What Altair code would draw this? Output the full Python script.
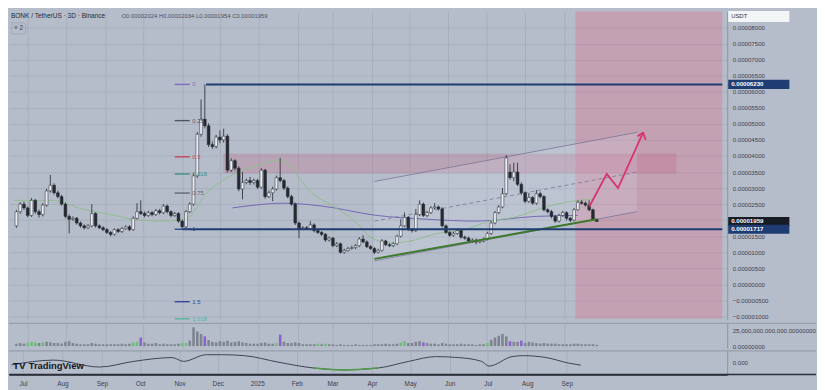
import altair as alt
import pandas as pd

# ---------------- layout / style ----------------
W = 728
H_MAIN = 312
H_VOL = 25
H_OSC = 24
BG = "#b6bdca"
GRID = "#a8afbc"
FONT = "Liberation Sans"
LABEL = "#3b414d"

# ---------------- data (prices in millionths of USDT) ----------------
candle_start = "2024-06-22"   # 3D candles
opens = [18.24, 22.65, 25.0, 23.82, 21.47, 26.18, 22.65, 21.76, 24.71, 29.12,
         30.88, 28.53, 27.35, 25.0, 21.18, 20.29, 20.59, 19.12, 18.24, 17.65,
         18.24, 22.06, 18.24, 17.65, 17.06, 16.18, 15.59, 17.06, 16.47, 17.35,
         17.94, 17.06, 20.59, 22.65, 22.06, 21.47, 22.35, 21.76, 22.94, 22.35,
         24.41, 22.65, 21.47, 22.06, 19.71, 17.94, 22.65, 25.0, 33.82, 46.76,
         51.47, 49.41, 43.53, 42.94, 45.88, 45.0, 46.18, 35.59, 38.53, 36.18,
         29.71, 31.76, 32.35, 31.76, 32.35, 30.29, 35.59, 27.35, 28.53, 29.71,
         33.24, 32.35, 30.0, 27.35, 25.0, 19.12, 17.35, 17.65, 17.35, 18.53,
         16.76, 16.18, 15.59, 13.82, 14.41, 12.06, 12.65, 10.0, 10.59, 11.18,
         11.47, 12.06, 14.12, 13.24, 11.76, 11.18, 10.0, 10.59, 13.53, 12.35,
         12.06, 12.65, 15.0, 18.24, 20.88, 17.06, 16.76, 21.76, 25.0, 21.47,
         22.35, 23.82, 24.12, 23.53, 18.24, 16.18, 15.29, 15.88, 16.76, 14.71,
         14.41, 13.53, 13.82, 13.24, 13.53, 14.12, 15.88, 19.12, 22.35, 24.12,
         28.24, 35.0, 33.24, 35.0, 31.18, 28.53, 25.88, 27.06, 25.29, 28.24,
         27.35, 23.24, 22.65, 21.18, 19.71, 21.47, 22.35, 20.59, 20.0, 23.24,
         25.59, 25.29, 24.71, 23.24, 20.24]
highs = [23.2, 25.6, 25.8, 24.3, 26.9, 26.6, 23.3, 25.3, 29.8, 34.1,
         31.5, 29.2, 27.9, 25.5, 21.8, 21.2, 21.0, 19.6, 18.7, 18.8,
         25.0, 22.5, 18.7, 18.1, 17.5, 16.6, 17.5, 17.5, 17.9, 18.4,
         18.4, 21.2, 25.3, 26.2, 22.7, 22.9, 22.8, 23.5, 23.5, 25.0,
         24.9, 23.1, 22.6, 22.5, 20.2, 23.2, 25.6, 34.5, 47.5, 57.6,
         62.3, 50.2, 44.5, 46.6, 48.0, 48.5, 46.8, 39.3, 39.0, 36.8,
         35.0, 33.0, 33.5, 33.0, 32.9, 36.2, 36.0, 29.2, 30.4, 33.9,
         39.4, 32.9, 30.5, 27.9, 25.5, 19.6, 18.2, 18.1, 19.7, 19.0,
         17.2, 16.6, 16.0, 14.9, 14.8, 13.2, 13.0, 11.1, 11.7, 12.0,
         12.6, 14.7, 15.3, 13.7, 12.2, 11.6, 11.1, 14.1, 13.9, 12.8,
         13.1, 15.5, 20.3, 22.4, 21.3, 17.5, 23.5, 26.2, 25.5, 22.9,
         24.4, 25.3, 24.6, 24.0, 18.7, 16.7, 16.4, 17.3, 17.2, 15.2,
         14.9, 14.3, 14.3, 14.0, 14.6, 16.4, 19.7, 22.9, 24.7, 30.0,
         40.3, 37.4, 37.9, 37.9, 31.8, 29.0, 28.5, 27.5, 29.4, 28.9,
         27.8, 23.7, 23.2, 21.7, 22.0, 22.9, 22.8, 21.0, 23.8, 26.2,
         26.3, 25.8, 26.2, 23.6, 20.34]
lows = [17.6, 22.0, 23.2, 20.9, 21.0, 22.0, 20.8, 21.2, 24.2, 28.6,
        28.0, 26.8, 24.5, 20.6, 15.9, 19.8, 18.6, 17.7, 17.1, 17.2,
        17.8, 17.7, 17.2, 16.6, 15.7, 15.0, 15.2, 16.0, 16.0, 17.0,
        16.6, 16.7, 20.2, 21.6, 20.9, 21.0, 21.2, 21.3, 21.8, 21.9,
        22.1, 20.9, 21.0, 19.2, 17.4, 17.1, 22.2, 24.5, 33.2, 46.0,
        48.6, 42.8, 42.2, 42.3, 44.0, 44.2, 34.9, 35.0, 35.5, 29.0,
        26.5, 31.2, 31.0, 31.1, 29.7, 29.8, 26.7, 26.9, 25.9, 29.2,
        31.8, 29.4, 26.8, 24.5, 18.5, 14.4, 16.9, 16.9, 16.9, 16.2,
        15.7, 15.1, 13.3, 13.3, 11.6, 11.6, 9.6, 9.6, 10.2, 10.8,
        11.0, 11.6, 12.8, 11.3, 10.7, 9.41, 9.6, 10.2, 11.9, 11.6,
        11.6, 12.2, 14.6, 17.8, 16.6, 16.2, 16.3, 21.3, 21.0, 20.9,
        21.9, 23.3, 23.0, 17.7, 15.7, 14.8, 14.8, 15.4, 14.2, 13.9,
        13.0, 13.0, 12.5, 12.8, 13.1, 13.7, 15.4, 18.7, 21.9, 23.7,
        27.8, 32.6, 32.1, 30.6, 27.9, 25.3, 25.4, 24.8, 24.8, 26.8,
        22.7, 22.1, 20.6, 19.2, 19.3, 21.0, 19.9, 19.4, 19.6, 23.0,
        24.8, 24.2, 22.8, 19.9, 19.54]
closes = [22.65, 25.0, 23.82, 21.47, 26.18, 22.65, 21.76, 24.71, 29.12, 30.88,
          28.53, 27.35, 25.0, 21.18, 20.29, 20.59, 19.12, 18.24, 17.65, 18.24,
          22.06, 18.24, 17.65, 17.06, 16.18, 15.59, 17.06, 16.47, 17.35, 17.94,
          17.06, 20.59, 22.65, 22.06, 21.47, 22.35, 21.76, 22.94, 22.35, 24.41,
          22.65, 21.47, 22.06, 19.71, 17.94, 22.65, 25.0, 33.82, 46.76, 51.47,
          49.41, 43.53, 42.94, 45.88, 45.0, 46.18, 35.59, 38.53, 36.18, 29.71,
          31.76, 32.35, 31.76, 32.35, 30.29, 35.59, 27.35, 28.53, 29.71, 33.24,
          32.35, 30.0, 27.35, 25.0, 19.12, 17.35, 17.65, 17.35, 18.53, 16.76,
          16.18, 15.59, 13.82, 14.41, 12.06, 12.65, 10.0, 10.59, 11.18, 11.47,
          12.06, 14.12, 13.24, 11.76, 11.18, 10.0, 10.59, 13.53, 12.35, 12.06,
          12.65, 15.0, 18.24, 20.88, 17.06, 16.76, 21.76, 25.0, 21.47, 22.35,
          23.82, 24.12, 23.53, 18.24, 16.18, 15.29, 15.88, 16.76, 14.71, 14.41,
          13.53, 13.82, 13.24, 13.53, 14.12, 15.88, 19.12, 22.35, 24.12, 28.24,
          39.41, 33.24, 35.0, 31.18, 28.53, 25.88, 27.06, 25.29, 28.24, 27.35,
          23.24, 22.65, 21.18, 19.71, 21.47, 22.35, 20.59, 20.0, 23.24, 25.59,
          25.29, 24.71, 23.24, 20.29, 19.59]
# volume in trillions
volumes = [4, 5, 4, 5, 7, 6, 5, 6, 7, 6,
           5, 5, 4, 7, 8, 5, 4, 3, 3, 3,
           5, 4, 3, 3, 3, 3, 3, 3, 4, 3,
           4, 6, 7, 14, 6, 4, 4, 5, 3, 4,
           3, 3, 3, 4, 5, 5, 9, 31, 24, 20,
           16, 10, 7, 6, 8, 7, 9, 6, 7, 8,
           6, 5, 4, 4, 4, 5, 6, 4, 4, 5,
           19, 7, 5, 5, 6, 5, 3, 3, 3, 3,
           4, 3, 4, 3, 3, 2, 3, 2, 2, 2,
           3, 2, 2, 2, 2, 3, 3, 3, 4, 3,
           3, 4, 6, 8, 5, 5, 7, 8, 6, 5,
           4, 4, 3, 5, 4, 3, 3, 3, 4, 3,
           3, 3, 2, 3, 3, 5, 10, 14, 17, 20,
           16, 8, 7, 7, 9, 5, 7, 6, 5, 4,
           5, 4, 4, 4, 3, 3, 3, 3, 4, 4,
           3, 3, 3, 3, 2]
vol_kind = list("nnngggngnn" "nnnnnnnnnn" "nnnnnnnnnn" "nggpnnnnnn" "nnnnggnnnn"
                "pnnnnnnnnn" "nnnnnnnnng" "pnnnnnnnnn" "gngnnnnnnn" "nnnnnnnnnn"
                "nnggnnnnpn" "nnnnnnnnnn" "nnnnngnnnn" "npnnpnnnnn" "nnnnnnnnnn" "nnnnn")

ma_fast_dates = ["2024-06-20", "2024-07-21", "2024-08-13", "2024-09-05", "2024-09-28",
                 "2024-10-21", "2024-11-05", "2024-11-20", "2024-12-11", "2024-12-31",
                 "2025-01-19", "2025-01-31", "2025-02-13", "2025-02-28", "2025-03-21",
                 "2025-03-31", "2025-04-15", "2025-05-02", "2025-05-23", "2025-06-11",
                 "2025-07-04", "2025-07-23", "2025-08-15", "2025-09-07", "2025-09-23"]
ma_fast_vals = [26.18, 26.18, 23.53, 21.76, 20.0, 19.71, 20.59, 28.24, 34.12, 37.06,
                38.82, 34.12, 28.24, 24.71, 18.82, 14.71, 12.94, 13.53, 15.88, 16.76,
                19.71, 20.88, 23.82, 25.88, 26.47]
ma_slow_dates = ["2024-12-11", "2024-12-29", "2025-01-21", "2025-02-20", "2025-04-05",
                 "2025-05-15", "2025-06-23", "2025-08-10", "2025-09-12"]
ma_slow_vals = [23.82, 24.71, 25.29, 24.41, 21.47, 20.29, 19.71, 21.18, 21.47]

osc_dates = ["2024-06-22", "2024-07-25", "2024-08-30", "2024-09-26", "2024-10-26",
             "2024-11-04", "2024-11-22", "2024-12-04", "2024-12-22", "2025-01-18",
             "2025-02-14", "2025-03-10", "2025-04-06", "2025-04-30", "2025-05-21",
             "2025-06-08", "2025-06-26", "2025-07-02", "2025-07-20", "2025-07-29",
             "2025-08-16", "2025-09-03", "2025-09-12"]
osc_vals = [-2.7, 2.3, -5, 1, 5, 1, 8, 8, 7, 0,
            -6, -8, -6, 1, 6, 5, 1, -4, 6, 7,
            5, -1, -3]
osc_low_dates = ["2025-02-14", "2025-03-10", "2025-04-06"]
osc_low_vals = [-6, -8, -6]

fib_labels = ["0", "0.25", "0.5", "0.618", "0.75", "1", "1.5", "1.618"]
fib_prices = [62.30, 51.02, 39.74, 34.41, 28.45, 17.17, -5.40, -10.72]
fib_colors = ["#7b6cc0", "#4f5663", "#c8435e", "#3d8f7f", "#5f6674", "#2d4a86", "#33479a", "#55b497"]

tick_months = [(2024, 7), (2024, 8), (2024, 9), (2024, 10), (2024, 11), (2024, 12),
               (2025, 1), (2025, 2), (2025, 3), (2025, 4), (2025, 5), (2025, 6),
               (2025, 7), (2025, 8), (2025, 9)]

tag_prices = [62.30, 19.59, 17.17]
tag_texts = ["0.00006230", "0.00001959", "0.00001717"]
tag_colors = ["#1f3d72", "#171b24", "#1f3d72"]

# ---------------- tables ----------------
dates = pd.date_range(candle_start, periods=len(closes), freq="3D")
candles = pd.DataFrame({"date": dates, "open": opens, "high": highs, "low": lows,
                        "close": closes, "vol": volumes, "vkind": vol_kind})
candles["dir"] = ["up" if c >= o else "down" for o, c in zip(opens, closes)]

T = pd.to_datetime

xscale = alt.Scale(domain=[alt.DateTime(year=2024, month=6, date=20),
                           alt.DateTime(year=2026, month=1, date=5)])
month_ticks = [alt.DateTime(year=y, month=m, date=1) for y, m in tick_months]
xaxis_hidden = alt.Axis(values=month_ticks, grid=True, gridColor=GRID, labels=False,
                        ticks=False, domain=False, title=None)
xaxis_bottom = alt.Axis(values=month_ticks, grid=True, gridColor=GRID, ticks=False,
                        domain=True, domainColor="#2b2f38", domainWidth=1.5,
                        labelExpr="month(datum.value) == 0 ? timeFormat(datum.value, '%Y') : timeFormat(datum.value, '%b')",
                        labelPadding=6, labelFontSize=6.5, labelColor=LABEL,
                        labelOverlap=False, labelFlush=False, title=None)

yscale_main = alt.Scale(domain=[-10.9, 85.0], nice=False, zero=False)
yaxis_main = alt.Axis(orient="right", values=list(range(-10, 85, 5)),
                      labelExpr="format(datum.value / 1000000, '.8f')",
                      grid=True, gridColor=GRID, ticks=False, domain=True,
                      domainColor="#8c93a0", labelPadding=5, labelFontSize=6.2,
                      labelColor=LABEL, labelOverlap=False, title=None)


def XM(field):
    return alt.X(f"{field}:T", scale=xscale, axis=xaxis_hidden)


def YM(field):
    return alt.Y(f"{field}:Q", scale=yscale_main, axis=yaxis_main)


# ---------------- main panel ----------------
red_zone = alt.Chart(pd.DataFrame({"x": T(["2025-09-10"]), "x2": T(["2026-01-05"]),
                                   "y": [-10.72], "y2": [85.0]})).mark_rect(
    color="#e2607f", opacity=0.30).encode(x=XM("x"), x2="x2:T", y=YM("y"), y2="y2:Q")

supply = alt.Chart(pd.DataFrame({"x": T(["2024-12-04"]), "x2": T(["2025-11-29"]),
                                 "y": [34.7], "y2": [40.6]})).mark_rect(
    color="#c2607e", opacity=0.26, stroke="#a8506c", strokeWidth=0.6).encode(
    x=XM("x"), x2="x2:T", y=YM("y"), y2="y2:Q")

chan = pd.DataFrame({"date": T(["2025-04-03", "2025-10-29"]),
                     "upper": [32.06, 47.35], "mid": [19.71, 35.0], "lower": [7.35, 22.65]})
chan_fill = alt.Chart(chan).mark_area(color="#dfe5f2", opacity=0.18).encode(
    x=XM("date"), y=YM("upper"), y2="lower:Q")
chan_up = alt.Chart(chan).mark_line(color="#7d7398", strokeWidth=0.8).encode(x=XM("date"), y=YM("upper"))
chan_mid = alt.Chart(chan).mark_line(color="#7d7398", strokeWidth=0.8, strokeDash=[4, 3]).encode(
    x=XM("date"), y=YM("mid"))
chan_lo = alt.Chart(chan).mark_line(color="#7d7398", strokeWidth=0.8).encode(x=XM("date"), y=YM("lower"))

ma_slow = alt.Chart(pd.DataFrame({"date": T(ma_slow_dates), "v": ma_slow_vals})).mark_line(
    color="#7467b5", strokeWidth=1, interpolate="monotone").encode(x=XM("date"), y=YM("v"))
ma_fast = alt.Chart(pd.DataFrame({"date": T(ma_fast_dates), "v": ma_fast_vals})).mark_line(
    color="#8fbd8c", strokeWidth=1, interpolate="monotone").encode(x=XM("date"), y=YM("v"))

wicks = alt.Chart(candles).mark_rule(color="#22262e", strokeWidth=0.8).encode(
    x=XM("date"), y=YM("low"), y2="high:Q")
bodies = alt.Chart(candles).mark_bar(size=2.8, stroke="#22262e", strokeWidth=0.5).encode(
    x=XM("date"), y=YM("open"), y2="close:Q",
    fill=alt.Fill("dir:N", scale=alt.Scale(domain=["up", "down"], range=["#e9ecf1", "#252931"]),
                  legend=None))

trend = alt.Chart(pd.DataFrame({"date": T(["2025-04-03", "2025-09-27"]), "v": [7.94, 20.29]})).mark_line(
    color="#3d7a2c", strokeWidth=2).encode(x=XM("date"), y=YM("v"))

fib_long = alt.Chart(pd.DataFrame({"x": T(["2024-11-20", "2024-11-01"]),
                                   "x2": T(["2026-01-05", "2026-01-05"]),
                                   "y": [62.30, 17.17]})).mark_rule(
    color="#1f3d72", strokeWidth=2).encode(x=XM("x"), x2="x2:T", y=YM("y"))

fib = pd.DataFrame({"label": fib_labels, "price": fib_prices, "color": fib_colors,
                    "x": T(["2024-10-26"] * len(fib_labels)), "x2": T(["2024-11-07"] * len(fib_labels)),
                    "xt": T(["2024-11-09"] * len(fib_labels))})
fib_ticks = alt.Chart(fib).mark_rule(strokeWidth=1.4).encode(
    x=XM("x"), x2="x2:T", y=YM("price"), color=alt.Color("color:N", scale=None))
fib_text = alt.Chart(fib).mark_text(align="left", baseline="middle", fontSize=6, font=FONT).encode(
    x=XM("xt"), y=YM("price"), text="label:N", color=alt.Color("color:N", scale=None))

arrow = alt.Chart(pd.DataFrame({"date": T(["2025-09-21", "2025-10-05", "2025-10-14", "2025-11-03"]),
                                "v": [24.12, 34.41, 30.0, 47.35]})).mark_line(
    color="#d8346c", strokeWidth=1.8).encode(x=XM("date"), y=YM("v"))
wings = alt.Chart(pd.DataFrame({"x": T(["2025-11-03", "2025-11-03"]),
                                "x2": T(["2025-10-29T12:00:00", "2025-11-04T22:00:00"]),
                                "y": [47.35, 47.35], "y2": [46.18, 45.03]})).mark_rule(
    color="#d8346c", strokeWidth=1.8).encode(x=XM("x"), x2="x2:T", y=YM("y"), y2="y2:Q")

one = pd.DataFrame({"t": ["BONK / TetherUS · 3D · Binance"]})
title1 = alt.Chart(one).mark_text(align="left", baseline="middle", fontSize=6.6, font=FONT,
                                  color="#262a33").encode(x=alt.value(2), y=alt.value(5), text="t:N")
title2 = alt.Chart(pd.DataFrame({"t": ["O0.00002024  H0.00002034  L0.00001954  C0.00001959"]})).mark_text(
    align="left", baseline="middle", fontSize=6, font=FONT, color="#4b505c").encode(
    x=alt.value(114), y=alt.value(5), text="t:N")
legend_box = alt.Chart(pd.DataFrame({"t": ["˅ 2"]})).mark_text(
    align="left", baseline="middle", fontSize=6.5, font=FONT, color="#3b414d").encode(
    x=alt.value(5), y=alt.value(17), text="t:N")
legend_frame = alt.Chart(pd.DataFrame({"t": ["˅ 2"]})).mark_point(
    shape="M-1,-0.8L1,-0.8L1,0.8L-1,0.8Z", size=196, filled=False, color="#8d94a1",
    strokeWidth=0.6).encode(x=alt.value(10), y=alt.value(17))

tags = pd.DataFrame({"price": tag_prices, "txt": tag_texts, "color": tag_colors})
tag_box = alt.Chart(tags).mark_point(shape="M-1,-0.15L1,-0.15L1,0.15L-1,0.15Z", size=3844,
                                     filled=True, opacity=1).encode(
    x=alt.value(W + 32), y=YM("price"), color=alt.Color("color:N", scale=None))
tag_text = alt.Chart(tags).mark_text(align="left", baseline="middle", fontSize=6.2, font=FONT,
                                     fontWeight="bold", color="#ffffff").encode(
    x=alt.value(W + 4), y=YM("price"), text="txt:N")
usdt_box = alt.Chart(pd.DataFrame({"t": ["USDT"]})).mark_point(
    shape="M-1,-0.18L1,-0.18L1,0.18L-1,0.18Z", size=3844, filled=True, color="#f4f5f7",
    opacity=1).encode(x=alt.value(W + 32), y=alt.value(5))
usdt_text = alt.Chart(pd.DataFrame({"t": ["USDT"]})).mark_text(
    align="left", baseline="middle", fontSize=6, font=FONT, color="#2a2e39").encode(
    x=alt.value(W + 4), y=alt.value(5), text="t:N")

main = alt.layer(red_zone, supply, chan_fill, chan_up, chan_mid, chan_lo, ma_slow, ma_fast,
                 wicks, bodies, trend, fib_long, fib_ticks, fib_text, arrow, wings,
                 title1, title2, legend_frame, legend_box, tag_box, tag_text, usdt_box, usdt_text
                 ).properties(width=W, height=H_MAIN)

# ---------------- volume panel ----------------
yaxis_vol = alt.Axis(orient="right", values=[0, 25],
                     labelExpr="format(datum.value * 1000000000000, ',.8f')",
                     grid=False, ticks=False, domain=True, domainColor="#8c93a0",
                     labelPadding=5, labelFontSize=6.2, labelColor=LABEL, title=None)
vol_bars = alt.Chart(candles).mark_bar(size=2.6).encode(
    x=alt.X("date:T", scale=xscale, axis=xaxis_hidden),
    y=alt.Y("vol:Q", scale=alt.Scale(domain=[-3.1, 37.5], nice=False, zero=False), axis=yaxis_vol),
    y2=alt.datum(0),
    color=alt.Color("vkind:N", scale=alt.Scale(domain=["n", "g", "p"],
                                               range=["#7f8590", "#6fbd79", "#8963cf"]), legend=None))
vol_sep = alt.Chart(pd.DataFrame({"t": [0]})).mark_rule(color="#8f96a3", strokeWidth=1).encode(
    x=alt.value(0), x2=alt.value(W + 90), y=alt.value(0))
vol = alt.layer(vol_bars, vol_sep).properties(width=W, height=H_VOL)

# ---------------- oscillator panel ----------------
yaxis_osc = alt.Axis(orient="right", values=[0], labelExpr="format(datum.value, '.3f')",
                     grid=False, ticks=False, domain=True, domainColor="#8c93a0",
                     labelPadding=5, labelFontSize=6.2, labelColor=LABEL, title=None)
osc_scale = alt.Scale(domain=[-13, 12], nice=False, zero=False)
osc_line = alt.Chart(pd.DataFrame({"date": T(osc_dates), "v": osc_vals})).mark_line(
    color="#3c4251", strokeWidth=1, interpolate="monotone").encode(
    x=alt.X("date:T", scale=xscale, axis=xaxis_bottom),
    y=alt.Y("v:Q", scale=osc_scale, axis=yaxis_osc))
osc_low = alt.Chart(pd.DataFrame({"date": T(osc_low_dates), "v": osc_low_vals})).mark_line(
    color="#4f9a4c", strokeWidth=1.6, interpolate="monotone").encode(
    x=alt.X("date:T", scale=xscale, axis=xaxis_bottom),
    y=alt.Y("v:Q", scale=osc_scale, axis=yaxis_osc))
osc_sep = alt.Chart(pd.DataFrame({"t": [0]})).mark_rule(color="#8f96a3", strokeWidth=1).encode(
    x=alt.value(0), x2=alt.value(W + 90), y=alt.value(0))
osc_bottom = alt.Chart(pd.DataFrame({"t": [0]})).mark_rule(color="#2b2f38", strokeWidth=1.5).encode(
    x=alt.value(0), x2=alt.value(W + 90), y=alt.value(H_OSC))
logo_icon = alt.Chart(pd.DataFrame({"t": ["TV"]})).mark_text(
    align="left", baseline="middle", fontSize=10, font=FONT, fontWeight="bold", color="#131722").encode(
    x=alt.value(4), y=alt.value(15), text="t:N")
logo_text = alt.Chart(pd.DataFrame({"t": ["TradingView"]})).mark_text(
    align="left", baseline="middle", fontSize=9.5, font=FONT, fontWeight="bold", color="#131722").encode(
    x=alt.value(20), y=alt.value(15), text="t:N")
osc = alt.layer(osc_line, osc_low, osc_sep, osc_bottom, logo_icon, logo_text).properties(
    width=W, height=H_OSC)

chart = alt.vconcat(main, vol, osc, spacing=0).properties(
    padding=0, background=BG
).configure_view(strokeWidth=0).configure_axis(labelFont=FONT)

chart.save("out.html", embed_options={"renderer": "svg", "actions": False})
